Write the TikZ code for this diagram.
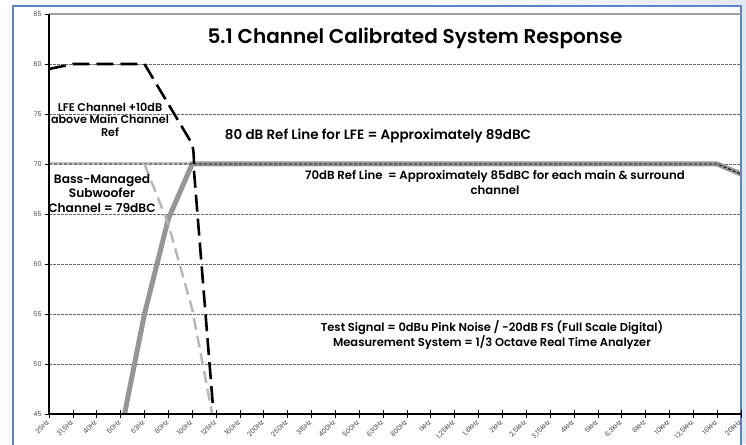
\documentclass[tikz,border=0pt]{standalone}
\usepackage{fontspec}
\setmainfont{Poppins}[BoldFont={Poppins SemiBold}]
\usetikzlibrary{positioning}

\definecolor{framebl}{RGB}{90,132,200}
\definecolor{paleside}{RGB}{226,231,242}
\definecolor{gridgr}{RGB}{105,105,105}
\definecolor{mainresp}{RGB}{150,150,150}
\definecolor{bassresp}{RGB}{182,182,182}
\definecolor{ticktext}{RGB}{70,70,70}

\begin{document}
\begin{tikzpicture}[x=1pt,y=1pt,every node/.style={font=\bfseries\fontsize{12}{12.5}\selectfont,inner sep=0pt},
  gridline/.style={gridgr,line width=.6pt,dash pattern=on 2.5pt off 1.5pt},
  lfeline/.style={black,line width=2.6pt,dash pattern=on 17pt off 7pt},
  bassline/.style={bassresp,line width=2.4pt,dash pattern=on 12pt off 6pt},
  axislabel/.style={font=\fontsize{6.5}{7}\selectfont,text=ticktext}]
\useasboundingbox (0,0) rectangle (746,444);
% outer frame
\shade[left color=white,right color=paleside] (420,438) rectangle (746,444);
\fill[paleside] (742,0) rectangle (746,444);
\draw[framebl,line width=2pt] (13,-2) -- (13,438) -- (741,438) -- (741,-2);

\begin{scope}[shift={(49,30)},x=23.862pt,y=10pt]
% grid
\draw[gray!75,line width=1.6pt] (0,40) -- (29,40);
\foreach \g in {5,10,...,35}
  \draw[gridline] (0,\g) -- (29,\g);
% curves
\begin{scope}
\clip (0,0) rectangle (29,40);
\draw[bassresp!80,line width=3pt] (0,25) -- (6,25);
\draw[mainresp,line width=5pt] (3,-2) -- (4,10) -- (5,19.5) -- (6,25) -- (28,25) -- (29,24);
\draw[black,line width=.9pt,dash pattern=on 3pt off 2pt] (0,25) -- (28,25) -- (29,24);
\draw[bassline] (4,25) -- (5,19) -- (6,10.5) -- (7,-2);
\draw[lfeline] (0,34.5) -- (1,35) -- (4,35) -- (6,27) .. controls (6.07,26.2) and (6.08,25.5) .. (6.07,24.5) -- (6.87,0.8);
\end{scope}
% axes
\draw[black,line width=1.3pt] (0,40) -- (0,0) -- (29,0);
\foreach \v [count=\j from 0] in {45,50,...,85} {
  \draw[black,line width=.6pt] (-0.15,\j*5) -- (0,\j*5);
  \node[axislabel,anchor=east] (ylab\j) at (-0.3,\j*5) {\v};
}
\foreach \f [count=\i from 0] in {25Hz,{31,5Hz},40Hz,50Hz,63Hz,80Hz,100Hz,125Hz,160Hz,200Hz,250Hz,315Hz,400Hz,500Hz,630Hz,800Hz,1kHz,{1,25kHz},{1,6kHz},2kHz,{2,5kHz},{3,15kHz},4kHz,5kHz,{6,3kHz},8kHz,10kHz,{12,5kHz},16kHz,20kHz} {
  \draw[black,line width=.6pt] (\i,-0.35) -- (\i,0.35);
  \node[axislabel,font=\fontsize{6.8}{7}\selectfont,rotate=45,anchor=north east] (xlab\i) at (\i-0.12,-0.5) {\f};
}
\end{scope}

% texts
\node[font=\bfseries\fontsize{20}{22}\selectfont,anchor=base] (title) at (415,400) {5.1 Channel Calibrated System Response};
\node[align=center,font=\bfseries\fontsize{11.2}{12.5}\selectfont] (lfetext) at (110,324.5) {LFE Channel +10dB\\above Main Channel\\Ref};
\node[font=\bfseries\fontsize{13.5}{14}\selectfont] (lferef) at (378,308) {80 dB Ref Line for LFE = Approximately 89dBC};
\node[align=center,font=\bfseries\fontsize{12.2}{14.5}\selectfont] (basstext) at (102,250.5) {Bass-Managed\\Subwoofer\\Channel = 79dBC};
\node[align=center,font=\bfseries\fontsize{11.7}{15}\selectfont] (mainref) at (495,261.5) {70dB Ref Line \ = Approximately 85dBC for each main \& surround\\channel};
\node[align=center,font=\bfseries\fontsize{11.5}{12.5}\selectfont] (testsig) at (492,109) {Test Signal = 0dBu Pink Noise / -20dB FS (Full Scale Digital)\\Measurement System = 1/3 Octave Real Time Analyzer};
\end{tikzpicture}
\end{document}
